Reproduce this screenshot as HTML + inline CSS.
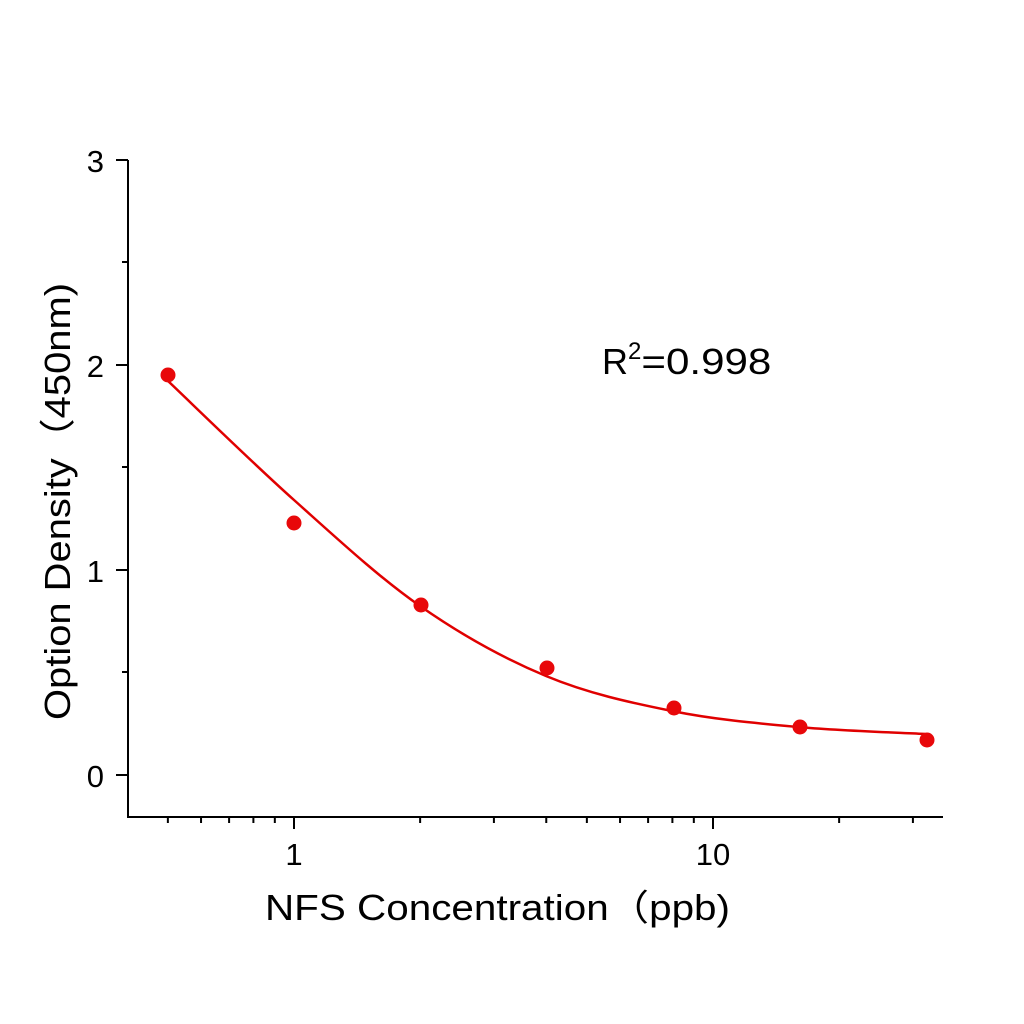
<!DOCTYPE html>
<html><head><meta charset="utf-8"><style>body{margin:0;background:#fff}svg{display:block}</style></head>
<body>
<svg id="s" width="1024" height="1024" xmlns="http://www.w3.org/2000/svg" font-family="'Liberation Sans',sans-serif" fill="#000">
<g stroke="#000" stroke-width="2" fill="none">
<path d="M128,160 V817 H943"/>
<path d="M116,160H128M116,365H128M116,570H128M116,775H128M122,262H128M122,467H128M122,672H128"/>
<g id="xt"></g>
</g>
<g font-size="31" text-anchor="end">
<text x="104" y="172">3</text><text x="104" y="377">2</text><text x="104" y="582">1</text><text x="104" y="787">0</text>
</g>
<g font-size="31" text-anchor="middle">
<text x="294" y="865">1</text><text x="713" y="865">10</text>
</g>
<text x="265" y="920" font-size="36" textLength="465" lengthAdjust="spacingAndGlyphs">NFS Concentration（ppb)</text>
<text transform="translate(70,720) rotate(-90)" font-size="36" textLength="437" lengthAdjust="spacingAndGlyphs">Option Density（450nm)</text>
<text x="602" y="374" font-size="36">R<tspan dy="-15" font-size="24">2</tspan><tspan dy="15" textLength="130" lengthAdjust="spacingAndGlyphs">=0.998</tspan></text>
<path id="c" stroke="#e00000" stroke-width="2.5" fill="none"/>
<g fill="#e8080a">
<circle cx="168" cy="375" r="7.5"/><circle cx="294" cy="523" r="7.5"/><circle cx="421" cy="605" r="7.5"/><circle cx="547" cy="668" r="7.5"/><circle cx="674" cy="708" r="7.5"/><circle cx="800" cy="727" r="7.5"/><circle cx="927" cy="740" r="7.5"/>
</g>
</svg>
<script>
var d='';function px(x){return 294+419*Math.log10(x);}
[0.5,0.6,0.7,0.8,0.9,2,3,4,5,6,7,8,9,20,30].forEach(function(v){var X=px(v);d+='M'+X+',817V823';});
[1,10].forEach(function(v){var X=px(v);d+='M'+X+',817V829';});
var p=document.createElementNS('http://www.w3.org/2000/svg','path');p.setAttribute('d',d);document.getElementById('xt').appendChild(p);
var P=[[168,381],[294,500],[420,606],[546,676],[672,711],[798,727],[925,734]];
var s='M'+P[0][0]+','+P[0][1];
for(var i=0;i<P.length-1;i++){var p0=P[Math.max(i-1,0)],p1=P[i],p2=P[i+1],p3=P[Math.min(i+2,P.length-1)];
s+=' C'+(p1[0]+(p2[0]-p0[0])/6)+','+(p1[1]+(p2[1]-p0[1])/6)+' '+(p2[0]-(p3[0]-p1[0])/6)+','+(p2[1]-(p3[1]-p1[1])/6)+' '+p2[0]+','+p2[1];}
document.getElementById('c').setAttribute('d',s);
</script>
</body></html>
